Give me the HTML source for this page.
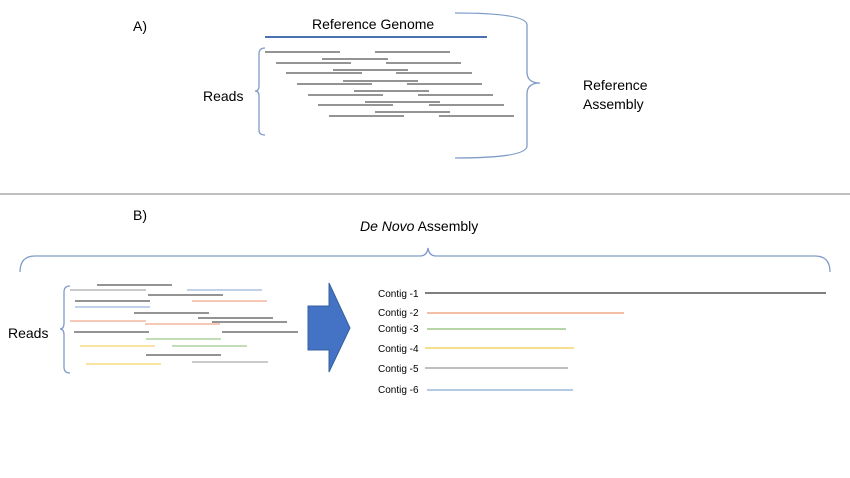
<!DOCTYPE html>
<html><head><meta charset="utf-8"><style>
body{margin:0;background:#fff;}
svg{display:block;font-family:"Liberation Sans",Calibri,sans-serif;}
</style></head><body>
<svg width="850" height="478" viewBox="0 0 850 478" xmlns="http://www.w3.org/2000/svg">
<text x="133" y="31" font-size="14" fill="#000">A)</text>
<text x="312" y="29" font-size="14" fill="#000">Reference Genome</text>
<line x1="265" y1="37" x2="487" y2="37" stroke="#4a72b0" stroke-width="2"/>
<g stroke="#555" stroke-width="1.3">
<line x1="265" y1="52" x2="340" y2="52"/><line x1="375" y1="52" x2="450" y2="52"/>
<line x1="322" y1="59" x2="388" y2="59"/>
<line x1="276" y1="63" x2="351" y2="63"/><line x1="386" y1="63" x2="461" y2="63"/>
<line x1="333" y1="70" x2="408" y2="70"/>
<line x1="286" y1="73" x2="362" y2="73"/><line x1="396" y1="73" x2="472" y2="73"/>
<line x1="343" y1="81" x2="418" y2="81"/>
<line x1="297" y1="84" x2="372" y2="84"/><line x1="407" y1="84" x2="482" y2="84"/>
<line x1="354" y1="91" x2="429" y2="91"/>
<line x1="308" y1="95" x2="383" y2="95"/><line x1="418" y1="95" x2="493" y2="95"/>
<line x1="365" y1="102" x2="440" y2="102"/>
<line x1="318" y1="105" x2="393" y2="105"/><line x1="429" y1="105" x2="504" y2="105"/>
<line x1="375" y1="112" x2="450" y2="112"/>
<line x1="329" y1="116" x2="404" y2="116"/><line x1="439" y1="116" x2="514" y2="116"/>
</g>
<g fill="none" stroke="#7f9cc8" stroke-width="1.3">
<path d="M265 48 Q259 48 259 54 L259 86 Q259 91 255 91 Q259 91 259 96 L259 130 Q259 135 265 135"/>
<path d="M455 13 Q527 13 527 25 L527 72 Q527 83 540 83 Q527 83 527 94 L527 146 Q527 158 455 158"/>
<path d="M20 272 Q20 256 35 256 L420 256 Q427 256 428 248 Q429 256 436 256 L815 256 Q830 256 830 272"/>
<path d="M70 286 Q64 286 64 292 L64 323 Q64 329 60 329 Q64 329 64 335 L64 367 Q64 373 70 373"/>
</g>
<text x="203" y="101" font-size="14" fill="#000">Reads</text>
<text x="583" y="90" font-size="14" fill="#000">Reference</text>
<text x="583" y="109" font-size="14" fill="#000">Assembly</text>
<line x1="0" y1="194" x2="850" y2="194" stroke="#999" stroke-width="1.3"/>
<text x="133" y="220" font-size="14" fill="#000">B)</text>
<text x="360" y="231" font-size="14" fill="#000"><tspan font-style="italic">De Novo</tspan> Assembly</text>
<text x="8" y="338" font-size="14" fill="#000">Reads</text>
<g stroke-width="1.3">
<line x1="97" y1="285" x2="172" y2="285" stroke="#555"/>
<line x1="70" y1="290" x2="146" y2="290" stroke="#aaa"/><line x1="187" y1="290" x2="262" y2="290" stroke="#9bb8dc"/>
<line x1="148" y1="295" x2="223" y2="295" stroke="#555"/>
<line x1="75" y1="301" x2="150" y2="301" stroke="#555"/><line x1="192" y1="301" x2="267" y2="301" stroke="#f0a88a"/>
<line x1="75" y1="307" x2="150" y2="307" stroke="#9bb8dc"/>
<line x1="134" y1="313" x2="209" y2="313" stroke="#555"/>
<line x1="198" y1="318" x2="273" y2="318" stroke="#555"/>
<line x1="70" y1="321" x2="146" y2="321" stroke="#f0a88a"/><line x1="212" y1="322" x2="287" y2="322" stroke="#555"/>
<line x1="145" y1="324" x2="220" y2="324" stroke="#f0a88a"/>
<line x1="74" y1="332" x2="149" y2="332" stroke="#555"/><line x1="222" y1="332" x2="298" y2="332" stroke="#555"/>
<line x1="146" y1="339" x2="221" y2="339" stroke="#9ec98a"/>
<line x1="80" y1="346" x2="155" y2="346" stroke="#f5d36a"/><line x1="172" y1="346" x2="247" y2="346" stroke="#9ec98a"/>
<line x1="146" y1="355" x2="221" y2="355" stroke="#555"/>
<line x1="192" y1="362" x2="268" y2="362" stroke="#aaa"/>
<line x1="86" y1="364" x2="161" y2="364" stroke="#f5d36a"/>
</g>
<path d="M308 306 L329 306 L329 283 L350 328 L329 372 L329 350 L308 350 Z" fill="#4472c4" stroke="#35609f" stroke-width="1"/>
<g font-size="10" fill="#000">
<text x="378" y="297">Contig -1</text>
<text x="378" y="316">Contig -2</text>
<text x="378" y="332">Contig -3</text>
<text x="378" y="352">Contig -4</text>
<text x="378" y="372">Contig -5</text>
<text x="378" y="393">Contig -6</text>
</g>
<g stroke-width="1.5">
<line x1="425" y1="293" x2="826" y2="293" stroke="#555"/>
<line x1="427" y1="313" x2="624" y2="313" stroke="#f0a88a"/>
<line x1="427" y1="329" x2="566" y2="329" stroke="#9ec98a"/>
<line x1="425" y1="348" x2="574" y2="348" stroke="#f5d36a"/>
<line x1="425" y1="368" x2="568" y2="368" stroke="#aaa"/>
<line x1="427" y1="390" x2="573" y2="390" stroke="#9bb8dc"/>
</g>
</svg>
</body></html>
